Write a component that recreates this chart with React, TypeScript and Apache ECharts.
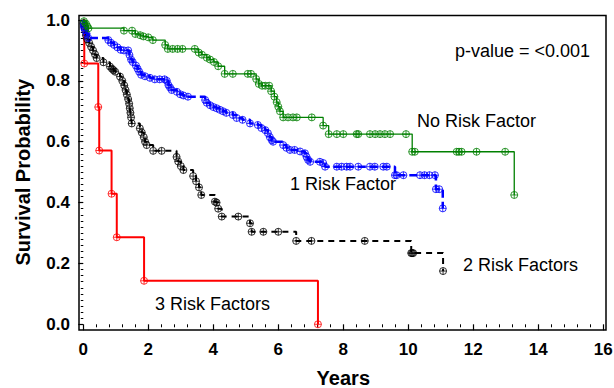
import React, { useEffect, useRef } from "react";
import * as echarts from "echarts";

// ---------- data ----------
const noRiskTime = [0, 0.02, 0.08, 0.12, 0.16, 1.25, 1.5, 1.6, 1.75, 1.85, 2.0, 2.14, 2.52, 2.6, 2.75, 2.9, 3.05, 3.43, 3.55, 3.65, 3.8, 3.9, 4.02, 4.15, 4.35, 4.6, 5.06, 5.16, 5.32, 5.4, 5.5, 5.6, 5.72, 5.78, 5.88, 5.95, 6.0, 6.05, 6.15, 6.3, 6.45, 6.57, 7.03, 7.38, 7.55, 7.8, 8.0, 8.41, 8.46, 8.82, 8.98, 9.13, 9.28, 9.44, 9.93, 10.12, 10.2, 11.49, 11.56, 11.64, 12.1, 12.98, 13.26];
const noRiskSurv = [1.0, 0.996, 0.988, 0.98, 0.973, 0.965, 0.965, 0.954, 0.95, 0.946, 0.943, 0.934, 0.918, 0.905, 0.905, 0.905, 0.905, 0.905, 0.893, 0.886, 0.876, 0.87, 0.862, 0.848, 0.823, 0.823, 0.823, 0.823, 0.806, 0.79, 0.784, 0.784, 0.784, 0.766, 0.748, 0.73, 0.715, 0.7, 0.68, 0.68, 0.68, 0.68, 0.68, 0.653, 0.625, 0.625, 0.625, 0.625, 0.625, 0.625, 0.625, 0.625, 0.625, 0.625, 0.625, 0.567, 0.567, 0.567, 0.567, 0.567, 0.567, 0.567, 0.425];

const oneRiskTime = [0, 0.01, 0.02, 0.05, 0.1, 0.15, 0.77, 0.85, 0.95, 1.05, 1.15, 1.25, 1.38, 1.42, 1.47, 1.52, 1.62, 1.67, 1.72, 1.78, 1.9, 2.05, 2.2, 2.35, 2.5, 2.57, 2.62, 2.67, 2.72, 2.88, 2.98, 3.08, 3.22, 3.75, 3.8, 3.9, 4.0, 4.1, 4.2, 4.3, 4.4, 4.6, 4.72, 4.9, 5.13, 5.37, 5.48, 5.6, 5.68, 5.74, 5.8, 5.84, 6.15, 6.25, 6.36, 6.5, 6.67, 6.82, 6.87, 6.92, 6.98, 7.28, 7.38, 7.44, 7.8, 7.95, 8.1, 8.21, 8.46, 8.82, 8.97, 9.23, 9.34, 9.59, 9.64, 9.85, 10.36, 10.5, 10.65, 10.82, 10.85, 10.95, 11.06];
const oneRiskSurv = [1.0, 0.987, 0.976, 0.967, 0.955, 0.941, 0.934, 0.925, 0.918, 0.91, 0.902, 0.9, 0.9, 0.885, 0.87, 0.862, 0.85, 0.84, 0.83, 0.82, 0.815, 0.81, 0.805, 0.805, 0.805, 0.8, 0.786, 0.778, 0.77, 0.764, 0.756, 0.752, 0.748, 0.737, 0.728, 0.72, 0.714, 0.71, 0.705, 0.7, 0.695, 0.688, 0.678, 0.672, 0.66, 0.655, 0.645, 0.638, 0.628, 0.615, 0.605, 0.6, 0.589, 0.58, 0.573, 0.573, 0.568, 0.562, 0.55, 0.54, 0.534, 0.534, 0.53, 0.518, 0.518, 0.518, 0.518, 0.518, 0.518, 0.518, 0.518, 0.518, 0.518, 0.49, 0.49, 0.49, 0.49, 0.49, 0.49, 0.49, 0.444, 0.444, 0.381];

const twoRiskTime = [0, 0.01, 0.03, 0.05, 0.08, 0.12, 0.18, 0.24, 0.3, 0.36, 0.41, 0.62, 0.82, 0.88, 0.93, 0.98, 1.13, 1.2, 1.26, 1.3, 1.34, 1.38, 1.41, 1.43, 1.45, 1.47, 1.49, 1.74, 1.8, 1.86, 1.9, 1.95, 2.15, 2.41, 2.87, 2.92, 3.0, 3.08, 3.38, 3.47, 3.56, 3.63, 4.05, 4.1, 4.15, 4.26, 4.77, 5.13, 5.18, 5.54, 6.0, 6.55, 7.02, 8.66, 10.09, 10.12, 10.15, 11.07];
const twoRiskSurv = [1.0, 0.99, 0.98, 0.97, 0.95, 0.937, 0.925, 0.912, 0.9, 0.887, 0.875, 0.861, 0.847, 0.84, 0.835, 0.83, 0.814, 0.8, 0.785, 0.77, 0.755, 0.74, 0.725, 0.71, 0.695, 0.68, 0.66, 0.644, 0.63, 0.615, 0.6, 0.589, 0.57, 0.57, 0.55, 0.535, 0.52, 0.507, 0.487, 0.47, 0.45, 0.425, 0.403, 0.4, 0.38, 0.354, 0.354, 0.332, 0.304, 0.304, 0.304, 0.274, 0.274, 0.274, 0.234, 0.234, 0.234, 0.175];

const threeRiskTime = [0, 0.03, 0.46, 0.49, 0.87, 1.03, 1.87, 7.22];
const threeRiskSurv = [1.0, 0.857, 0.714, 0.571, 0.429, 0.286, 0.143, 0.0];

const groupLabels = ["No Risk Factor", "1 Risk Factor", "2 Risk Factors", "3 Risk Factors"];
const pValueText = "p-value = <0.001";

// ---------- styling ----------
const FONT = "'Liberation Sans', Arial, Helvetica, sans-serif";
const MARK = "path://M0,-10A10,10,0,1,1,0,10A10,10,0,1,1,0,-10ZM-10,0L10,0M0,-10L0,10";

function km(name: string, times: number[], surv: number[], color: string, width: number, dash: any, z: number) {
  const data = times.map((t, i) => [t, surv[i]]);
  return [
    {
      type: "line",
      name,
      data,
      step: "end",
      symbol: "none",
      lineStyle: { color, width, type: dash },
      z,
      silent: true,
    },
    {
      type: "scatter",
      name: name + " marks",
      data: data.slice(1),
      symbol: MARK,
      symbolSize: 7,
      itemStyle: { color: "rgba(0,0,0,0)", borderColor: color, borderWidth: 1 },
      z: z + 1,
      silent: true,
    },
  ];
}

export default function App() {
  const ref = useRef<HTMLDivElement>(null);
  useEffect(() => {
    if (!ref.current) return;
    const chart = echarts.init(ref.current, null, { renderer: "svg" });
    const labelStyle = { color: "#000", fontSize: 17, fontWeight: "bold" as const, fontFamily: FONT };
    chart.setOption({
      animation: false,
      backgroundColor: "#fff",
      grid: { left: 83.3, right: 10.7, top: 20, bottom: 63.7, containLabel: false, outerBoundsMode: "none" },
      xAxis: {
        type: "value",
        min: 0,
        max: 16,
        interval: 2,
        offset: 6,
        axisLine: { show: false },
        axisTick: { show: true, length: 6, lineStyle: { color: "#000", width: 1.2 } },
        minorTick: { show: true, splitNumber: 5, length: 3, lineStyle: { color: "#000", width: 1 } },
        splitLine: { show: false },
        minorSplitLine: { show: false },
        axisLabel: { ...labelStyle, margin: 11 },
        name: "Years",
        nameLocation: "middle",
        nameGap: 38,
        nameTextStyle: { color: "#000", fontSize: 20, fontWeight: "bold", fontFamily: FONT },
      },
      yAxis: {
        type: "value",
        min: 0,
        max: 1,
        interval: 0.2,
        offset: 4.3,
        axisLine: { show: false },
        axisTick: { show: true, length: 5, lineStyle: { color: "#000", width: 1.2 } },
        minorTick: { show: true, splitNumber: 10, length: 2.5, lineStyle: { color: "#000", width: 1 } },
        splitLine: { show: false },
        minorSplitLine: { show: false },
        axisLabel: { ...labelStyle, margin: 9, formatter: (v: number) => v.toFixed(1) },
        name: "Survival Probability",
        nameLocation: "middle",
        nameGap: 46,
        nameTextStyle: { color: "#000", fontSize: 20, fontWeight: "bold", fontFamily: FONT },
      },
      series: [
        ...km(groupLabels[3], threeRiskTime, threeRiskSurv, "#ff0000", 2, "solid", 2),
        ...km(groupLabels[2], twoRiskTime, twoRiskSurv, "#000000", 2, [6, 5], 4),
        ...km(groupLabels[1], oneRiskTime, oneRiskSurv, "#0000ff", 2.5, [8, 4], 6),
        ...km(groupLabels[0], noRiskTime, noRiskSurv, "#008000", 1.3, "solid", 8),
      ],
      graphic: [
        {
          type: "rect",
          shape: { x: 79, y: 15.5, width: 527, height: 314.5 },
          style: { fill: "none", stroke: "#000", lineWidth: 1.5 },
          z: 20,
          silent: true,
        },
        { type: "text", left: 455, top: 42, style: { text: pValueText, font: `18px ${FONT}`, fill: "#000" } },
        { type: "text", left: 417, top: 112, style: { text: groupLabels[0], font: `18px ${FONT}`, fill: "#000" } },
        { type: "text", left: 290, top: 175, style: { text: groupLabels[1], font: `18px ${FONT}`, fill: "#000" } },
        { type: "text", left: 463, top: 256, style: { text: groupLabels[2], font: `18px ${FONT}`, fill: "#000" } },
        { type: "text", left: 155, top: 295, style: { text: groupLabels[3], font: `18px ${FONT}`, fill: "#000" } },
      ],
    });
    return () => chart.dispose();
  }, []);
  return (
    <div
      ref={ref}
      style={{ position: "absolute", left: 0, top: 0, width: 614, height: 388, background: "#fff" }}
    />
  );
}
